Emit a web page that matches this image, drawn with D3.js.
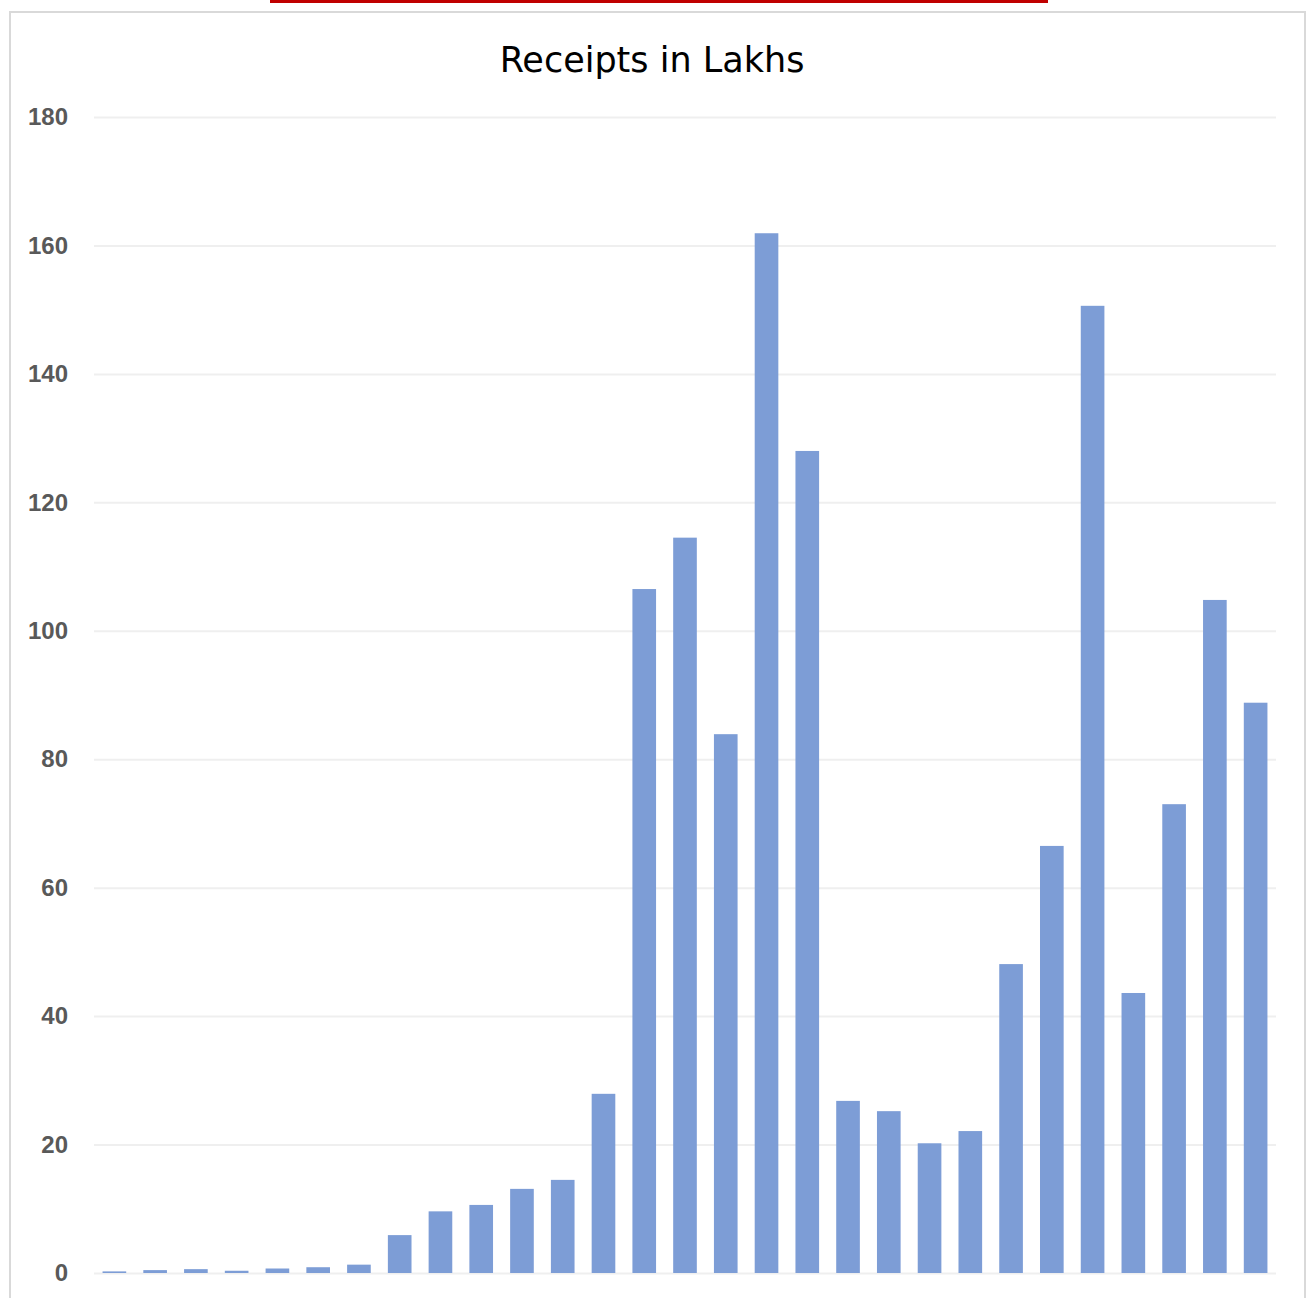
<!DOCTYPE html>
<html>
<head>
<meta charset="utf-8">
<script src="https://cdn.jsdelivr.net/npm/d3@7"></script>
<style>
  body { margin: 0; background: #fff; }
  svg { display: block; }
</style>
</head>
<body>
<div id="chart"></div>
<script>
// Chart data
const categories = d3.range(1, 30).map(d => "P" + d);
const receipts = [0.25, 0.45, 0.6, 0.35, 0.7, 0.9, 1.3, 5.9, 9.6, 10.6, 13.1, 14.5, 27.9,
                  106.5, 114.5, 83.9, 161.9, 128.0, 26.8, 25.2, 20.2, 22.1, 48.1, 66.5,
                  150.6, 43.6, 73.0, 104.8, 88.8];
const yTicks = [0, 20, 40, 60, 80, 100, 120, 140, 160, 180];
const TITLE = "Receipts in Lakhs";

const WIDTH = 1312;
const HEIGHT = 1298;
const MARGIN = { left: 94, right: 36, top: 117, bottom: 25 };

const svg = d3.select("#chart").append("svg")
  .attr("width", WIDTH)
  .attr("height", HEIGHT);

// red strip at the very top
svg.append("rect")
  .attr("x", 270).attr("y", 0)
  .attr("width", 778).attr("height", 3)
  .attr("fill", "#c00000");

// chart frame
svg.append("rect")
  .attr("x", 10).attr("y", 12)
  .attr("width", 1295).attr("height", 1300)
  .attr("fill", "none")
  .attr("stroke", "#d9d9d9")
  .attr("stroke-width", 2);

svg.append("text")
  .attr("x", 652).attr("y", 72)
  .attr("text-anchor", "middle")
  .style("font-family", "'DejaVu Sans', sans-serif")
  .style("font-size", "35px")
  .attr("fill", "#000")
  .text(TITLE);

let xScale = d3.scaleBand()
  .domain(categories)
  .range([MARGIN.left, WIDTH - MARGIN.right])
  .paddingInner(0.42)
  .paddingOuter(0.21);

let yScale = d3.scaleLinear()
  .domain([0, 180])
  .range([HEIGHT - MARGIN.bottom, MARGIN.top]);

// gridlines + labels via axis
let yAxis = d3.axisLeft(yScale)
  .tickValues(yTicks)
  .tickSize(-(WIDTH - MARGIN.right - MARGIN.left))
  .tickPadding(26);

let gy = svg.append("g")
  .attr("transform", "translate(" + MARGIN.left + ",0)")
  .call(yAxis);
gy.select(".domain").remove();
gy.selectAll(".tick line")
  .attr("stroke", "#efefef")
  .attr("stroke-width", 2);
gy.selectAll(".tick text")
  .attr("fill", "#595959")
  .style("font-family", "'Liberation Sans', Arial, sans-serif")
  .style("font-weight", "bold")
  .style("font-size", "24px");

svg.append("g").selectAll("rect")
  .data(receipts)
  .enter()
  .append("rect")
  .attr("x", (d, i) => xScale(categories[i]))
  .attr("y", d => yScale(d))
  .attr("width", xScale.bandwidth())
  .attr("height", d => yScale(0) - yScale(d))
  .attr("fill", "#7d9dd6");
</script>
</body>
</html>
